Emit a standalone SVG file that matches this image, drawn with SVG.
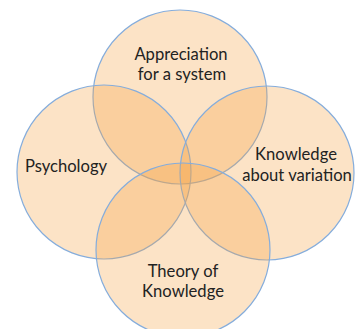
<svg xmlns="http://www.w3.org/2000/svg" width="360" height="329" viewBox="0 0 360 329">
<style>
.c{fill:#F5A243;fill-opacity:0.3;stroke:#85ADDC;stroke-width:1.2}
.t{font-family:Lato,"Open Sans","Liberation Sans",sans-serif;font-size:16.6px;fill:#222;text-anchor:middle}
</style>
<rect width="360" height="329" fill="#fff"/>
<g id="top"><circle class="c" cx="180" cy="97" r="87"/></g>
<g id="left"><circle class="c" cx="104" cy="172" r="87"/></g>
<g id="right"><circle class="c" cx="267" cy="173" r="87"/></g>
<g id="bottom"><circle class="c" cx="183" cy="250" r="87"/></g>
<g id="labels">
<text class="t" x="181" y="60">Appreciation</text>
<text class="t" x="182" y="80">for a system</text>
<text class="t" x="66" y="172">Psychology</text>
<text class="t" x="296" y="160">Knowledge</text>
<text class="t" x="297" y="181">about variation</text>
<text class="t" x="183" y="277">Theory of</text>
<text class="t" x="183" y="297">Knowledge</text>
</g>
</svg>
